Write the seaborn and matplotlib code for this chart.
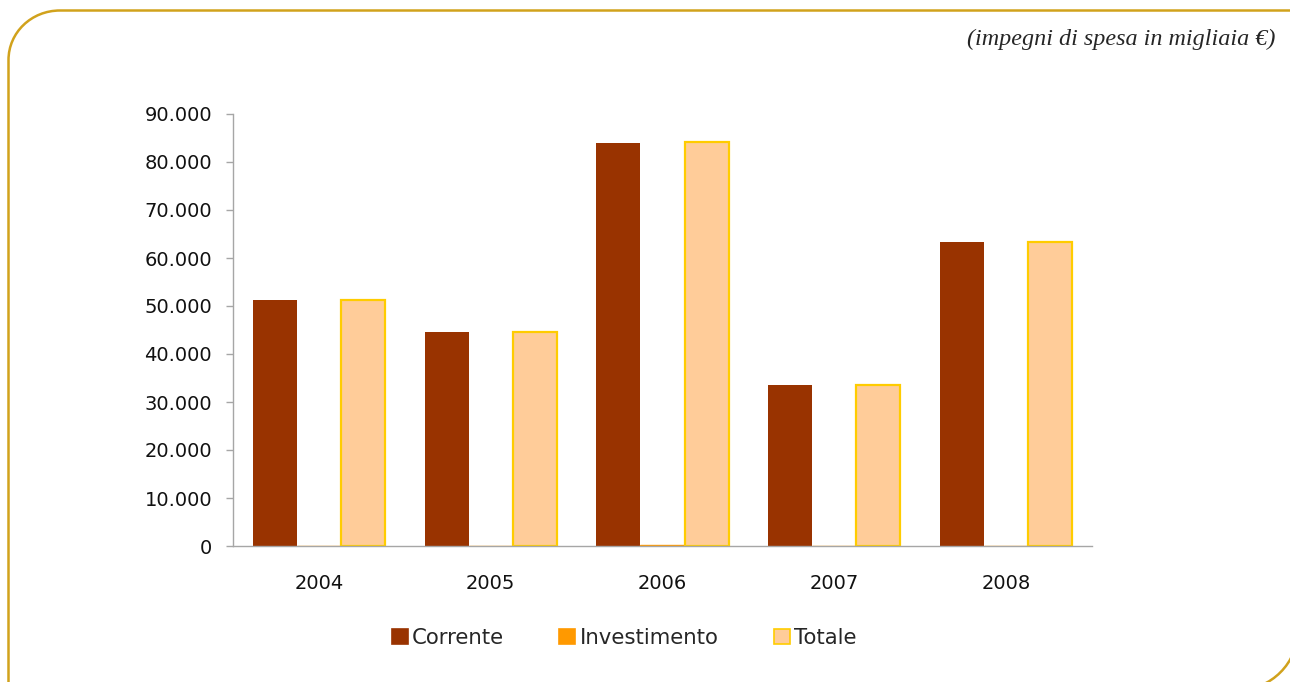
import pandas as pd
import seaborn as sns
import matplotlib.pyplot as plt
from matplotlib.patches import Patch, PathPatch
from matplotlib.path import Path
from matplotlib.ticker import FuncFormatter, FixedLocator

sns.set_style("white")
plt.rcParams['font.family'] = ['DejaVu Sans']

# data (impegni di spesa in migliaia di euro)
anni = ["2004", "2005", "2006", "2007", "2008"]
corrente = [51200, 44600, 84000, 33500, 63300]
investimento = [0, 0, 200, 0, 0]
totale = [c + i for c, i in zip(corrente, investimento)]
serie = ["Corrente", "Investimento", "Totale"]

df = pd.DataFrame({
    "anno": anni * 3,
    "serie": [s for s in serie for _ in anni],
    "valore": corrente + investimento + totale,
})

pal = {"Corrente": "#993300", "Investimento": "#FF9900", "Totale": "#FFCC99"}

W, H = 1290, 682
fig = plt.figure(figsize=(W / 100, H / 100), dpi=100)
ax = fig.add_axes([233 / W, 1 - 546 / H, 859 / W, 432 / H])

sns.barplot(data=df, x="anno", y="valore", hue="serie", hue_order=serie,
            palette=pal, saturation=1, width=0.77, gap=0, linewidth=0,
            legend=False, ax=ax)
for bar in ax.containers[2]:
    bar.set_edgecolor("#FFCC00")
    bar.set_linewidth(1.6)
for bar in ax.containers[1]:
    bar.set_edgecolor("#FF9900")
    bar.set_linewidth(1.0)

ax.set_ylim(0, 90000)
ax.set_xlim(-0.5, 4.5)
ax.set_yticks(range(0, 90001, 10000))
ax.yaxis.set_major_formatter(FuncFormatter(lambda v, p: f"{int(v):,}".replace(",", ".")))
ax.xaxis.set_minor_locator(FixedLocator([-0.5, 0.5, 1.5, 2.5, 3.5, 4.5]))
ax.tick_params(axis="x", which="major", length=0, pad=20, labelsize=14, labelcolor="#111111")
ax.tick_params(axis="x", which="minor", length=5, width=1, color="#A6A6A6", direction="out")
ax.tick_params(axis="y", length=5, width=1, color="#A6A6A6", direction="out", pad=10,
               labelsize=14, labelcolor="#111111", left=True)
ax.set_xlabel("")
ax.set_ylabel("")
for s in ["top", "right"]:
    ax.spines[s].set_visible(False)
for s in ["left", "bottom"]:
    ax.spines[s].set_color("#A6A6A6")
    ax.spines[s].set_linewidth(1)

handles = [Patch(facecolor=pal[s], edgecolor=("#FFCC00" if s == "Totale" else pal[s]),
                 linewidth=1.2) for s in serie]
fig.legend(handles, serie, loc="center", bbox_to_anchor=(624 / W, 1 - 638 / H), ncol=3,
           frameon=False, fontsize=15.3, handlelength=0.75, handleheight=0.75,
           handletextpad=0.2, columnspacing=2.6)

fig.text(1275 / W, 1 - 39 / H, "(impegni di spesa in migliaia \u20ac)", ha="right", va="center",
         family=["Liberation Serif", "DejaVu Serif"], style="italic", fontsize=17.4)

# cornice con angoli arrotondati
def px(x, y):
    return (x / W, 1 - y / H)

k = 0.55
verts = [px(8.5, 700), px(8.5, 60),
         px(8.5, 60 - 50 * k), px(60 - 52 * k, 10.5), px(60, 10.5),
         px(1300, 10.5)]
codes = [Path.MOVETO, Path.LINETO, Path.CURVE4, Path.CURVE4, Path.CURVE4, Path.LINETO]
fig.add_artist(PathPatch(Path(verts, codes), transform=fig.transFigure, fill=False,
                         edgecolor="#D1A21C", linewidth=1.8))
verts2 = [px(1298, 630), px(1298, 630 + 60 * k), px(1238 + 60 * k, 690), px(1238, 690)]
codes2 = [Path.MOVETO, Path.CURVE4, Path.CURVE4, Path.CURVE4]
fig.add_artist(PathPatch(Path(verts2, codes2), transform=fig.transFigure, fill=False,
                         edgecolor="#D1A21C", linewidth=1.8))

fig.savefig("out.png", dpi=100)
